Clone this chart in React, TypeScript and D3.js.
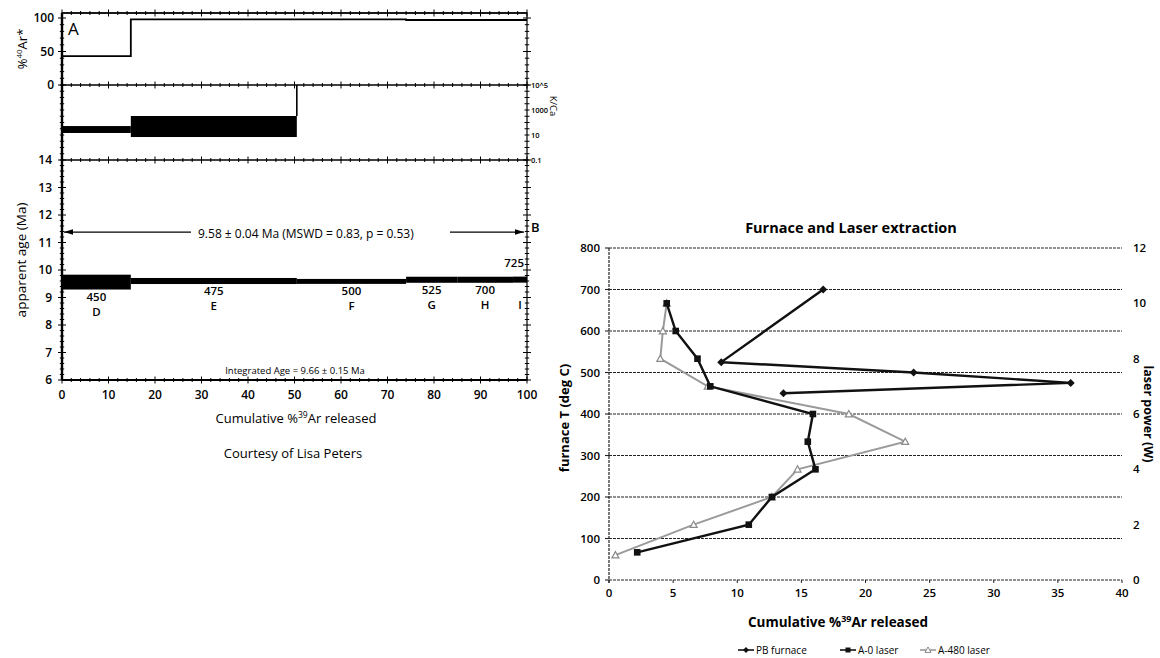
import React from 'react';
import * as d3 from 'd3';

// ---------- Panel A data ----------
const stepBounds = [0, 14.8, 50.5, 74, 85, 97, 100];
const stepLetters = ['D', 'E', 'F', 'G', 'H', 'I'];
const stepTemps = ['450', '475', '500', '525', '700', '725'];
const radiogenicPct = [43, 98, 98, 97, 97, 97];
const kcaLow = [14.5, 6.9, 2e5, 2e5, 2e5, 2e5];
const kcaHigh = [52, 331, 5e5, 5e5, 5e5, 5e5];
const ageMid = [9.56, 9.6, 9.585, 9.645, 9.645, 9.65];
const ageErr = [0.27, 0.11, 0.09, 0.11, 0.11, 0.11];
const plateauLevel = 11.38;
const plateauText = '9.58 ± 0.04 Ma (MSWD = 0.83, p = 0.53)';
const integratedText = 'Integrated Age = 9.66 ± 0.15 Ma';
const xTicksA = [0, 10, 20, 30, 40, 50, 60, 70, 80, 90, 100];
const arTicks = [0, 50, 100];
const ageTicks = [6, 7, 8, 9, 10, 11, 12, 13, 14];
const kcaTicks = [1e5, 1e3, 10, 0.1];
const kcaTickLabels = ['10^5', '1000', '10', '0.1'];

// ---------- Panel B data ----------
const furnaceT = [450, 475, 500, 525, 700];
const furnaceCum = [13.6, 36.0, 23.75, 8.75, 16.7];
const a0Power = [1, 2, 3, 4, 5, 6, 7, 8, 9, 10];
const a0Cum = [2.2, 10.9, 12.7, 16.1, 15.5, 15.9, 7.9, 6.9, 5.2, 4.5];
const a480Power = [0.9, 2, 3, 4, 5, 6, 7, 8, 9, 10];
const a480Cum = [0.5, 6.6, 12.7, 14.7, 23.1, 18.7, 7.7, 4.0, 4.2, 4.5];
const tTicks = [0, 100, 200, 300, 400, 500, 600, 700, 800];
const wTicks = [0, 2, 4, 6, 8, 10, 12];
const xTicksB = [0, 5, 10, 15, 20, 25, 30, 35, 40];
const legendNames = ['PB furnace', 'A-0 laser', 'A-480 laser'];

const FA = '"Open Sans", "Noto Sans", sans-serif';

export default function App() {
  // scales panel A
  const xA = d3.scaleLinear().domain([0, 100]).range([62, 527]);
  const yAr = d3.scaleLinear().domain([0, 100]).range([85, 18]);
  const yK = d3.scaleLog().domain([0.1, 1e5]).range([160, 85]);
  const yAge = d3.scaleLinear().domain([6, 14]).range([380, 160]);
  const topA = 13;

  // scales panel B
  const xB = d3.scaleLinear().domain([0, 40]).range([609, 1122]);
  const yT = d3.scaleLinear().domain([0, 800]).range([580, 248]);
  const yW = d3.scaleLinear().domain([0, 12]).range([580, 248]);

  const steps = stepLetters.map((s, i) => ({
    letter: s,
    temp: stepTemps[i],
    x0: stepBounds[i],
    x1: stepBounds[i + 1],
    ar: radiogenicPct[i],
    kLo: kcaLow[i],
    kHi: kcaHigh[i],
    aLo: ageMid[i] - ageErr[i],
    aHi: ageMid[i] + ageErr[i],
  }));

  const arPts: [number, number][] = [];
  steps.forEach((s) => {
    arPts.push([xA(s.x0), yAr(s.ar)]);
    arPts.push([xA(s.x1), yAr(s.ar)]);
  });
  const arPath = d3.line()(arPts) as string;

  const minorX = d3.range(0, 100.01, 2);
  const hLines = [topA, yAr(0), yK(0.1), yAge(6)];

  const ageMinor = d3.range(6, 14.001, 0.2);
  const arMinor = d3.range(0, 106, 10);
  const kMinor = d3.range(-1, 5.01, 0.5).map((e) => Math.pow(10, e));

  const lineB = d3.line<[number, number]>();
  const furnacePts: [number, number][] = furnaceT.map((t, i) => [xB(furnaceCum[i]), yT(t)]);
  const a0Pts: [number, number][] = a0Power.map((w, i) => [xB(a0Cum[i]), yW(w)]);
  const a480Pts: [number, number][] = a480Power.map((w, i) => [xB(a480Cum[i]), yW(w)]);

  const diamond = (x: number, y: number, r: number) =>
    `M${x},${y - r}L${x + r},${y}L${x},${y + r}L${x - r},${y}Z`;
  const tri = (x: number, y: number, r: number) =>
    `M${x},${y - r}L${x + r},${y + r * 0.8}L${x - r},${y + r * 0.8}Z`;

  const legendX = [738, 840, 920];
  const legendY = 650;

  return (
    <svg
      width={1160}
      height={658}
      style={{ position: 'absolute', left: 0, top: 0, background: '#fff' }}
      fontFamily={FA}
    >
      <defs>
        <clipPath id="kclip">
          <rect x={xA(0)} y={85} width={xA(100) - xA(0)} height={75} />
        </clipPath>
        <marker id="arrR" viewBox="0 0 10 10" refX="10" refY="5" markerWidth="7" markerHeight="7" orient="auto">
          <path d="M0,2L10,5L0,8Z" fill="#000" />
        </marker>
        <marker id="arrL" viewBox="0 0 10 10" refX="0" refY="5" markerWidth="7" markerHeight="7" orient="auto">
          <path d="M10,2L0,5L10,8Z" fill="#000" />
        </marker>
      </defs>

      {/* ================= PANEL A ================= */}
      <g>
        <rect x={xA(0)} y={topA} width={xA(100) - xA(0)} height={yAge(6) - topA} fill="none" stroke="#000" strokeWidth={1.2} />
        {hLines.map((y, i) => (
          <line key={'hl' + i} x1={xA(0)} x2={xA(100)} y1={y} y2={y} stroke="#000" strokeWidth={i === 3 ? 2.2 : 1.6} />
        ))}
        <line x1={xA(0)} x2={xA(0)} y1={topA} y2={yAge(6)} stroke="#000" strokeWidth={2.4} />
        {hLines.map((y, i) =>
          minorX.map((v) => {
            const major = Math.round(v) % 10 === 0;
            const l = major ? 3.5 : 2;
            return <line key={`tk${i}-${v}`} x1={xA(v)} x2={xA(v)} y1={y - l} y2={y + l} stroke="#000" strokeWidth={1} />;
          })
        )}
        {ageMinor.map((v, i) => {
          const major = Math.abs(v - Math.round(v)) < 0.01;
          const l = major ? 4 : 2.2;
          return (
            <g key={'am' + i}>
              <line x1={xA(0) - l} x2={xA(0) + l} y1={yAge(v)} y2={yAge(v)} stroke="#000" strokeWidth={1} />
              <line x1={xA(100) - l} x2={xA(100) + l} y1={yAge(v)} y2={yAge(v)} stroke="#000" strokeWidth={1} />
            </g>
          );
        })}
        {arMinor.map((v, i) => {
          const l = v % 50 === 0 ? 4 : 2.2;
          return (
            <g key={'arm' + i}>
              <line x1={xA(0) - l} x2={xA(0) + l} y1={yAr(v)} y2={yAr(v)} stroke="#000" strokeWidth={1} />
              <line x1={xA(100) - l} x2={xA(100) + l} y1={yAr(v)} y2={yAr(v)} stroke="#000" strokeWidth={1} />
            </g>
          );
        })}
        {kMinor.map((v, i) => (
          <g key={'km' + i}>
            <line x1={xA(0) - 2.2} x2={xA(0) + 2.2} y1={yK(v)} y2={yK(v)} stroke="#000" strokeWidth={1} />
            <line x1={xA(100) - 2.5} x2={xA(100) + 2.5} y1={yK(v)} y2={yK(v)} stroke="#000" strokeWidth={1} />
          </g>
        ))}

        <path d={arPath} fill="none" stroke="#000" strokeWidth={1.8} />

        <g clipPath="url(#kclip)">
          {steps.map((s, i) => (
            <rect key={'k' + i} x={xA(s.x0)} y={yK(s.kHi)} width={xA(s.x1) - xA(s.x0)} height={yK(s.kLo) - yK(s.kHi)} fill="#000" />
          ))}
          {steps.slice(1).map((s, i) => {
            const p = steps[i];
            if (s.kLo > p.kHi) {
              return <line key={'kc' + i} x1={xA(s.x0)} x2={xA(s.x0)} y1={yK(p.kHi)} y2={yK(s.kLo)} stroke="#000" strokeWidth={1.6} />;
            }
            return null;
          })}
        </g>

        {steps.map((s, i) => (
          <rect key={'a' + i} x={xA(s.x0)} y={yAge(s.aHi)} width={xA(s.x1) - xA(s.x0)} height={yAge(s.aLo) - yAge(s.aHi)} fill="#000" />
        ))}
        {steps.map((s, i) => {
          const cx = xA((s.x0 + s.x1) / 2);
          const bottom = yAge(s.aLo);
          const last = i === steps.length - 1;
          return (
            <g key={'sl' + i} fontSize={11.5} fontWeight={600} textAnchor="middle" fill="#000">
              {last ? (
                <text x={xA(100) - 3} y={yAge(s.aHi) - 10} textAnchor="end">{s.temp}</text>
              ) : (
                <text x={cx} y={bottom + 11}>{s.temp}</text>
              )}
              <text x={cx} y={bottom + 26}>{s.letter}</text>
            </g>
          );
        })}

        <line x1={xA(0) + 2} x2={191} y1={yAge(plateauLevel)} y2={yAge(plateauLevel)} stroke="#000" strokeWidth={1.3} markerStart="url(#arrL)" />
        <line x1={450} x2={xA(100) - 3} y1={yAge(plateauLevel)} y2={yAge(plateauLevel)} stroke="#000" strokeWidth={1.3} markerEnd="url(#arrR)" />
        <text x={198} y={yAge(plateauLevel) + 6} fontSize={12} fill="#000">{plateauText}</text>

        <text x={295} y={yAge(6) - 6} fontSize={9.5} textAnchor="middle" fill="#000">{integratedText}</text>

        {xTicksA.map((v) => (
          <text key={'xa' + v} x={xA(v)} y={399} fontSize={12} fontWeight={600} textAnchor="middle">{v}</text>
        ))}
        {arTicks.map((v) => (
          <text key={'ya' + v} x={54} y={yAr(v) + 4} fontSize={12} fontWeight={600} textAnchor="end">{v}</text>
        ))}
        {ageTicks.map((v) => (
          <text key={'yg' + v} x={52} y={yAge(v) + 4} fontSize={12} fontWeight={600} textAnchor="end">{v}</text>
        ))}
        {kcaTicks.map((v, i) => (
          <text key={'yk' + v} x={531} y={yK(v) + 3} fontSize={7.5} fontWeight={600} textAnchor="start">{kcaTickLabels[i]}</text>
        ))}

        <text transform="translate(27,49) rotate(-90)" fontSize={13} textAnchor="middle">
          %<tspan dy={-5} fontSize={8}>40</tspan><tspan dy={5}>Ar*</tspan>
        </text>
        <text transform="translate(26,260) rotate(-90)" fontSize={13.5} textAnchor="middle">apparent age (Ma)</text>
        <text transform="translate(550,106) rotate(90)" fontSize={9.5} textAnchor="middle">K/Ca</text>
        <text x={68} y={35} fontSize={17}>A</text>
        <text x={296} y={423} fontSize={13} textAnchor="middle">
          Cumulative %<tspan dy={-5} fontSize={8.5}>39</tspan><tspan dy={5}>Ar released</tspan>
        </text>
        <text x={293} y={458} fontSize={13} textAnchor="middle">Courtesy of Lisa Peters</text>
      </g>

      {/* ================= PANEL B ================= */}
      <g>
        <text x={531} y={232} fontSize={13} fontWeight={600}>B</text>
        <text x={851} y={233} fontSize={14.5} fontWeight={700} textAnchor="middle">Furnace and Laser extraction</text>

        {tTicks.map((v) => (
          <g key={'gt' + v}>
            <line x1={xB(0)} x2={xB(40)} y1={yT(v)} y2={yT(v)} stroke="#222" strokeWidth={1.1} strokeDasharray="3,1" />
            <line x1={xB(0) - 4} x2={xB(0)} y1={yT(v)} y2={yT(v)} stroke="#222" strokeWidth={1.1} />
            <text x={600} y={yT(v) + 4} fontSize={11.5} fontWeight={600} textAnchor="end">{v}</text>
          </g>
        ))}
        <line x1={xB(0)} x2={xB(0)} y1={yT(800)} y2={yT(0) + 3} stroke="#222" strokeWidth={1.2} strokeDasharray="3,1" />
        {xTicksB.map((v) => (
          <g key={'xb' + v}>
            <line x1={xB(v)} x2={xB(v)} y1={yT(0)} y2={yT(0) + 3} stroke="#222" strokeWidth={1} />
            <text x={xB(v)} y={597} fontSize={11.5} fontWeight={600} textAnchor="middle">{v}</text>
          </g>
        ))}
        {wTicks.map((v) => (
          <text key={'wb' + v} x={1133} y={yW(v) + 4} fontSize={11.5} fontWeight={600} textAnchor="start">{v}</text>
        ))}

        <text transform={`translate(569,${(yT(0) + yT(800)) / 2 + 4}) rotate(-90)`} fontSize={13} fontWeight={700} textAnchor="middle">furnace T (deg C)</text>
        <text transform={`translate(1144,${(yT(0) + yT(800)) / 2}) rotate(90)`} fontSize={12.5} fontWeight={700} textAnchor="middle">laser power (W)</text>
        <text x={838} y={627} fontSize={13.5} fontWeight={700} textAnchor="middle">
          Cumulative %<tspan dy={-5} fontSize={9}>39</tspan><tspan dy={5}>Ar released</tspan>
        </text>

        <path d={lineB(a480Pts) as string} fill="none" stroke="#9a9a9a" strokeWidth={2} />
        {a480Pts.map((p, i) => (
          <path key={'t' + i} d={tri(p[0], p[1], 3.5)} fill="#fff" stroke="#8a8a8a" strokeWidth={1.2} />
        ))}
        <path d={lineB(a0Pts) as string} fill="none" stroke="#111" strokeWidth={2.4} />
        {a0Pts.map((p, i) => (
          <rect key={'s' + i} x={p[0] - 3.3} y={p[1] - 3.3} width={6.6} height={6.6} fill="#111" />
        ))}
        <path d={lineB(furnacePts) as string} fill="none" stroke="#111" strokeWidth={2.4} />
        {furnacePts.map((p, i) => (
          <path key={'d' + i} d={diamond(p[0], p[1], 4)} fill="#111" />
        ))}

        <g fontSize={10}>
          <line x1={legendX[0]} x2={legendX[0] + 16} y1={legendY} y2={legendY} stroke="#111" strokeWidth={1.6} />
          <path d={diamond(legendX[0] + 8, legendY, 3)} fill="#111" />
          <text x={legendX[0] + 18} y={legendY + 3.5}>{legendNames[0]}</text>

          <line x1={legendX[1]} x2={legendX[1] + 16} y1={legendY} y2={legendY} stroke="#111" strokeWidth={1.6} />
          <rect x={legendX[1] + 5.5} y={legendY - 2.5} width={5} height={5} fill="#111" />
          <text x={legendX[1] + 18} y={legendY + 3.5}>{legendNames[1]}</text>

          <line x1={legendX[2]} x2={legendX[2] + 16} y1={legendY} y2={legendY} stroke="#9a9a9a" strokeWidth={1.6} />
          <path d={tri(legendX[2] + 8, legendY, 3)} fill="#fff" stroke="#888" strokeWidth={1} />
          <text x={legendX[2] + 18} y={legendY + 3.5}>{legendNames[2]}</text>
        </g>
      </g>
    </svg>
  );
}
